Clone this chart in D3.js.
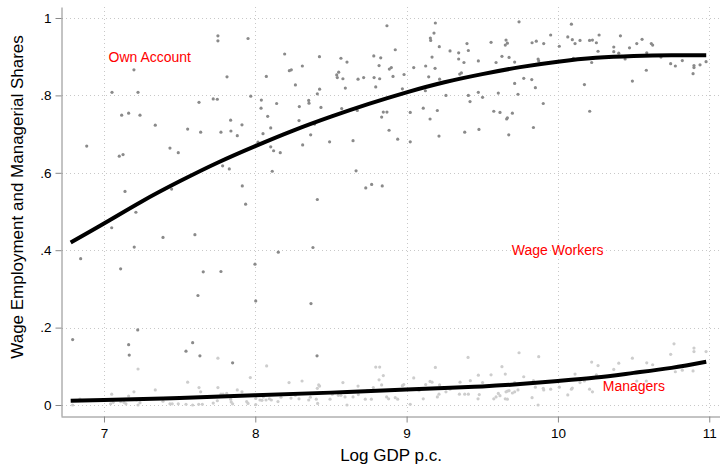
<!DOCTYPE html>
<html>
<head>
<meta charset="utf-8">
<script src="https://cdn.jsdelivr.net/npm/d3@7"></script>
<style>
  html, body { margin: 0; padding: 0; background: #fff; }
  svg { display: block; font-family: "Liberation Sans", Arial, Helvetica, sans-serif; }
</style>
</head>
<body>
<svg id="chart" width="720" height="467"></svg>
<script>
// Country observations: [log GDP per capita, share]
const wageShares = [
  [6.886,0.669],[7.053,0.808],[7.198,0.866],[7.225,0.808],[7.117,0.749],[7.163,0.754],[7.238,0.749],[7.339,0.723],
  [7.101,0.643],[7.126,0.647],[7.436,0.664],[7.491,0.652],[7.553,0.713],[7.628,0.782],[7.639,0.705],[7.722,0.791],
  [7.749,0.790],[7.753,0.954],[7.753,0.941],[7.813,0.848],[7.837,0.736],[7.773,0.705],[7.839,0.708],[7.881,0.696],
  [6.846,0.378],[7.051,0.458],[7.110,0.352],[7.139,0.552],[7.211,0.498],[7.200,0.408],[7.390,0.433],[7.447,0.558],
  [7.601,0.440],[7.656,0.344],[7.621,0.283],[7.773,0.345],[7.784,0.618],[7.828,0.610],
  [8.121,0.657],[8.165,0.652],[8.112,0.604],[8.666,0.605],[7.914,0.566],[7.936,0.519],[8.730,0.561],[8.769,0.570],
  [8.839,0.566],[8.410,0.531],[8.381,0.407],[8.152,0.395],[7.998,0.364],[8.003,0.269],[8.368,0.262],
  [6.793,0.169],[7.163,0.156],[7.167,0.129],[7.223,0.194],[7.542,0.139],[7.586,0.161],[7.634,0.127],[7.850,0.109],[8.408,0.127],
  [7.952,0.947],[7.970,0.798],[7.912,0.724],[8.040,0.788],[8.038,0.767],[8.082,0.746],[8.073,0.849],[8.141,0.779],
  [8.051,0.701],[8.102,0.716],[8.102,0.667],[8.018,0.679],[8.194,0.907],[8.225,0.864],[8.238,0.866],[8.311,0.876],
  [8.265,0.827],[8.291,0.771],[8.289,0.735],[8.353,0.787],[8.355,0.780],[8.366,0.698],[8.313,0.672],[8.392,0.726],
  [8.410,0.804],[8.425,0.816],[8.434,0.769],[8.424,0.900],[8.491,0.680],[8.538,0.853],[8.542,0.846],[8.551,0.860],
  [8.566,0.896],[8.579,0.843],[8.595,0.819],[8.606,0.886],[8.571,0.766],[8.646,0.683],[8.674,0.761],[8.679,0.842],
  [8.716,0.846],[8.783,0.902],[8.785,0.846],[8.796,0.822],[8.818,0.877],[8.822,0.843],[8.829,0.897],[8.835,0.744],
  [8.846,0.757],[8.870,0.757],[8.870,0.980],[8.886,0.868],[8.899,0.872],[8.910,0.849],[8.925,0.918],[8.884,0.710],
  [8.941,0.687],[8.972,0.817],[8.983,0.854],[9.024,0.756],[9.024,0.680],[9.047,0.872],[9.110,0.767],[9.126,0.876],
  [9.124,0.812],[9.146,0.848],[9.155,0.739],[9.157,0.948],[9.159,0.942],[9.168,0.899],[9.181,0.961],[9.190,0.987],
  [9.188,0.870],[9.203,0.761],[9.214,0.695],[9.216,0.926],[9.218,0.842],[9.287,0.915],[9.260,0.800],[9.344,0.910],
  [9.344,0.894],[9.351,0.855],[9.362,0.858],[9.379,0.885],[9.399,0.934],[9.408,0.916],[9.408,0.800],[9.419,0.784],
  [9.384,0.705],[9.474,0.889],[9.474,0.808],[9.478,0.712],
  [9.502,0.795],[9.558,0.937],[9.591,0.885],[9.606,0.806],[9.576,0.759],[9.617,0.756],[9.630,0.901],[9.652,0.930],
  [9.657,0.943],[9.666,0.935],[9.677,0.898],[9.661,0.739],[9.666,0.742],[9.699,0.754],[9.675,0.698],[9.714,0.886],
  [9.714,0.831],[9.736,0.803],[9.743,0.990],[9.774,0.844],[9.829,0.936],[9.857,0.940],[9.827,0.841],[9.851,0.820],
  [9.869,0.894],[9.873,0.889],[9.838,0.717],[9.906,0.934],[9.903,0.779],[9.952,0.956],[10.009,0.927],[10.065,0.951],
  [10.089,0.984],[10.095,0.944],[10.113,0.934],[10.146,0.942],[10.102,0.896],[10.175,0.828],[10.209,0.942],[10.228,0.943],
  [10.223,0.885],[10.254,0.936],[10.265,0.914],[10.272,0.956],[10.210,0.759],[10.369,0.925],[10.369,0.913],[10.402,0.909],
  [10.413,0.954],[10.444,0.894],[10.473,0.923],[10.492,0.837],[10.521,0.934],[10.556,0.945],[10.584,0.865],[10.587,0.910],
  [10.617,0.934],[10.626,0.930],[10.681,0.899],[10.745,0.882],[10.776,0.876],[10.822,0.890],[10.893,0.856],[10.899,0.877],
  [10.899,0.872],[10.939,0.879],[10.979,0.887]
];

const managerShares = [
  [6.793,0.000],[6.841,0.015],[7.051,0.028],[7.044,0.003],[7.061,0.007],[7.110,0.009],[7.132,0.007],[7.145,0.003],
  [7.163,0.023],[7.198,0.034],[7.216,0.013],[7.225,0.000],[7.238,0.006],[7.225,0.093],[7.339,0.039],[7.390,0.010],
  [7.436,0.003],[7.451,0.003],[7.491,0.003],[7.553,0.059],[7.542,0.002],[7.586,0.000],[7.628,0.045],[7.639,0.034],
  [7.626,0.002],[7.650,0.002],[7.722,0.005],[7.749,0.011],[7.753,0.045],[7.753,0.121],[7.773,0.028],[7.787,0.028],
  [7.811,0.030],[7.837,0.015],[7.841,0.008],[7.850,0.003],[7.881,0.039],
  [7.912,0.034],[7.943,0.009],[7.952,0.004],[7.967,0.071],[8.003,0.017],[8.003,0.001],[8.031,0.013],[8.053,0.021],
  [8.044,0.012],[8.075,0.101],[8.071,0.013],[8.093,0.016],[8.106,0.013],[8.150,0.009],[8.170,0.020],[8.223,0.058],
  [8.236,0.018],[8.265,0.025],[8.289,0.016],[8.309,0.062],[8.353,0.013],[8.364,0.020],[8.364,0.029],[8.403,0.015],
  [8.412,0.004],[8.410,0.043],[8.419,0.052],[8.425,0.049],[8.494,0.015],[8.509,0.028],[8.549,0.025],[8.566,0.025],
  [8.579,0.058],[8.593,0.021],[8.606,0.000],[8.646,0.021],[8.679,0.049],[8.681,0.027],[8.727,0.015],[8.767,0.015],
  [8.740,0.037],[8.780,0.045],[8.796,0.098],[8.822,0.098],[8.818,0.065],[8.846,0.076],[8.835,0.052],[8.868,0.021],
  [8.881,0.016],[8.925,0.019],[8.941,0.015],[8.972,0.050],[8.981,0.053],[9.024,0.002],[9.047,0.070],[9.082,0.037],
  [9.110,0.016],[9.126,0.053],[9.155,0.061],[9.168,0.059],[9.190,0.097],[9.203,0.021],[9.214,0.028],[9.218,0.052],
  [9.260,0.034],[9.287,0.041],[9.353,0.059],[9.349,0.028],[9.384,0.028],[9.408,0.028],[9.406,0.123],[9.421,0.063],
  [9.474,0.077],[9.472,0.016],
  [9.502,0.058],[9.480,0.027],[9.558,0.078],[9.576,0.016],[9.591,0.021],[9.606,0.030],[9.630,0.099],[9.617,0.024],
  [9.652,0.080],[9.657,0.034],[9.666,0.036],[9.652,0.016],[9.666,0.015],[9.677,0.037],[9.699,0.031],[9.714,0.058],
  [9.714,0.034],[9.736,0.039],[9.743,0.135],[9.774,0.073],[9.829,0.019],[9.838,0.063],[9.869,0.000],[9.873,0.125],
  [9.851,0.046],[9.903,0.043],[9.906,0.039],[9.952,0.041],[10.009,0.046],[10.065,0.026],[10.089,0.041],[10.095,0.044],
  [10.113,0.080],[10.146,0.058],[10.175,0.062],[10.209,0.041],[10.228,0.034],[10.223,0.111],[10.265,0.102],[10.254,0.078],
  [10.369,0.092],[10.402,0.108],[10.492,0.121],[10.521,0.062],[10.587,0.109],[10.626,0.104],[10.584,0.062],[10.745,0.131],
  [10.767,0.158],[10.776,0.086],[10.822,0.090],[10.899,0.147],[10.899,0.138],[10.893,0.088],[10.979,0.138]
];

// Fitted curves: [log GDP per capita, fitted share]
const wageFit = [
  [6.78,0.420],[7.0,0.469],[7.25,0.526],[7.5,0.578],[7.75,0.626],[8.0,0.669],[8.25,0.709],[8.5,0.745],
  [8.75,0.778],[9.0,0.808],[9.25,0.834],[9.5,0.855],[9.75,0.873],[10.0,0.887],[10.25,0.897],[10.5,0.902],
  [10.75,0.904],[10.98,0.904]
];
const managerFit = [
  [6.78,0.011],[7.0,0.013],[7.5,0.018],[8.0,0.025],[8.5,0.032],[9.0,0.040],[9.25,0.044],[9.5,0.048],
  [9.75,0.054],[10.0,0.062],[10.25,0.071],[10.5,0.083],[10.75,0.096],[10.98,0.112]
];

const xTicks = [7, 8, 9, 10, 11];
const xTickLabels = ["7", "8", "9", "10", "11"];
const yTicks = [0, 0.2, 0.4, 0.6, 0.8, 1];
const yTickLabels = ["0", ".2", ".4", ".6", ".8", "1"];

// Text annotations: [label, x, y]
const annotations = [
  ["Own Account", 7.03, 0.9],
  ["Wage Workers", 9.695, 0.4],
  ["Managers", 10.296, 0.048]
];

const svg = d3.select("#chart");
const plotLeft = 61, plotRight = 720, plotTop = 7, plotBottom = 416;

const x = d3.scaleLinear().domain([6.716, 11.071]).range([plotLeft, plotRight]);
const y = d3.scaleLinear().domain([-0.0284, 1.0284]).range([plotBottom, plotTop]);

// Dotted grid
const grid = svg.append("g").attr("stroke", "#c8c8c8").attr("stroke-width", 1)
  .attr("stroke-dasharray", "1,3").attr("fill", "none");
grid.selectAll("line.h").data(yTicks).join("line").attr("class", "h")
  .attr("x1", plotLeft + 1).attr("x2", plotRight)
  .attr("y1", d => Math.round(y(d)) + 0.5).attr("y2", d => Math.round(y(d)) + 0.5);
grid.selectAll("line.v").data(xTicks).join("line").attr("class", "v")
  .attr("y1", plotTop).attr("y2", plotBottom - 1)
  .attr("x1", d => Math.round(x(d)) + 0.5).attr("x2", d => Math.round(x(d)) + 0.5);

// Scatter points
svg.append("g").selectAll("circle").data(managerShares).join("circle")
  .attr("cx", d => x(d[0])).attr("cy", d => y(d[1])).attr("r", 1.6)
  .attr("fill", "#cdcdcd");
svg.append("g").selectAll("circle").data(wageShares).join("circle")
  .attr("cx", d => x(d[0])).attr("cy", d => y(d[1])).attr("r", 1.6)
  .attr("fill", "#8a8a8a");

// Fitted lines
const line = d3.line().x(d => x(d[0])).y(d => y(d[1])).curve(d3.curveNatural);
svg.append("path").datum(wageFit).attr("d", line)
  .attr("fill", "none").attr("stroke", "#000").attr("stroke-width", 4);
svg.append("path").datum(managerFit).attr("d", line)
  .attr("fill", "none").attr("stroke", "#000").attr("stroke-width", 4);

// Axes
const xAxis = d3.axisBottom(x).tickValues(xTicks)
  .tickFormat((d, i) => xTickLabels[i]).tickSize(6).tickSizeOuter(0).tickPadding(6);
const yAxis = d3.axisLeft(y).tickValues(yTicks)
  .tickFormat((d, i) => yTickLabels[i]).tickSize(6).tickSizeOuter(0).tickPadding(4);

const gx = svg.append("g").attr("transform", `translate(0,${plotBottom + 0.5})`).call(xAxis);
const gy = svg.append("g").attr("transform", `translate(${plotLeft + 0.5},0)`).call(yAxis);
[gx, gy].forEach(g => {
  g.select(".domain").attr("stroke", "#888");
  g.selectAll(".tick line").attr("stroke", "#888");
  g.selectAll(".tick text").attr("fill", "#000").style("font-size", "13.5px")
    .style("font-family", "'Liberation Sans', Arial, Helvetica, sans-serif");
});

// Axis titles
svg.append("text").attr("x", 391).attr("y", 461).attr("text-anchor", "middle")
  .style("font-size", "17px").attr("fill", "#000").text("Log GDP p.c.");
svg.append("text").attr("transform", "translate(23,197) rotate(-90)").attr("text-anchor", "middle")
  .style("font-size", "17px").attr("fill", "#000").text("Wage Employment and Managerial Shares");

// Annotations
svg.append("g").selectAll("text").data(annotations).join("text")
  .attr("x", d => x(d[1])).attr("y", d => y(d[2])).attr("dy", "0.35em")
  .style("font-size", "14px").attr("fill", "#ff0000").text(d => d[0]);
</script>
</body>
</html>
